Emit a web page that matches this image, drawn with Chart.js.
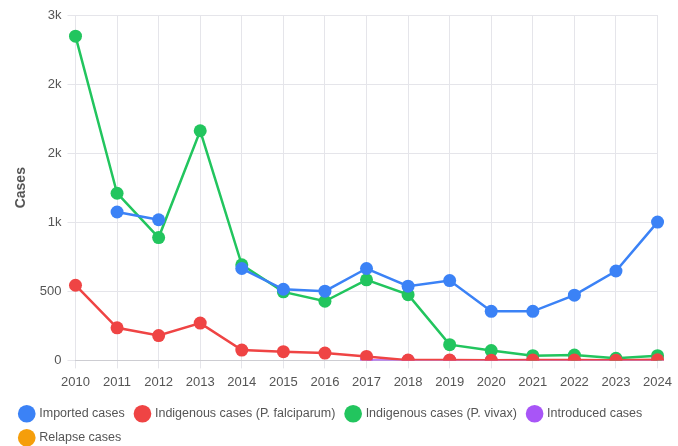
<!DOCTYPE html>
<html>
<head>
<meta charset="utf-8">
<script src="https://cdn.jsdelivr.net/npm/chart.js@4/dist/chart.umd.min.js"></script>
<style>
  html, body { margin: 0; padding: 0; background: #fff; overflow: hidden; }
  #wrap { width: 678px; height: 454px; }
</style>
</head>
<body>
<div id="wrap"><canvas id="cases"></canvas></div>
<script>
// years on the x axis
const years = ['2010', '2011', '2012', '2013', '2014', '2015', '2016', '2017', '2018', '2019', '2020', '2021', '2022', '2023', '2024'];

// series
const imported = [null, 1074, 1018, null, 665, 515, 501, 665, 537, 578, 355, 355, 472, 647, 1001];
const indigenousFalciparum = [544, 236, 180, 270, 75, 63, 53, 29, 2, 3, 1, 2, 2, 1, 4];
const indigenousVivax = [2347, 1210, 889, 1662, 692, 496, 428, 583, 476, 114, 71, 34, 39, 15, 34];
const introduced = [null, null, null, null, null, null, null, 0, 0, 0, 0, 0, 0, 0, 0];
const relapse = [null, null, null, null, null, null, null, null, null, null, null, null, null, null, null];

function series(label, values, colour) {
    return {
        label: label,
        data: values,
        borderColor: colour,
        backgroundColor: colour,
        borderWidth: 2.5,
        pointRadius: 6.5,
        pointHoverRadius: 7,
        pointBorderWidth: 0,
        tension: 0
    };
}

Chart.defaults.font.family = "'Liberation Sans', Arial, sans-serif";
Chart.defaults.color = '#666';

new Chart(document.getElementById('cases').getContext('2d'), {
    type: 'line',
    data: {
        labels: years,
        datasets: [
            series('Imported cases', imported, '#3b82f6'),
            series('Indigenous cases (P. falciparum)', indigenousFalciparum, '#ef4444'),
            series('Indigenous cases (P. vivax)', indigenousVivax, '#22c55e'),
            series('Introduced cases', introduced, '#a855f7'),
            series('Relapse cases', relapse, '#f59e0b')
        ]
    },
    options: {
        responsive: true,
        maintainAspectRatio: false,
        animation: false,
        layout: { padding: { left: 9, right: -3, top: 15, bottom: 0 } },
        plugins: {
            legend: {
                position: 'bottom',
                align: 'start',
                labels: {
                    usePointStyle: true,
                    pointStyle: 'circle',
                    boxWidth: 14,
                    boxHeight: 14,
                    padding: 11.5,
                    color: '#555',
                    font: { size: 12.5 }
                }
            },
            tooltip: { enabled: false }
        },
        scales: {
            x: {
                offset: false,
                grid: { color: '#e5e5ea' },
                ticks: { font: { size: 13 }, color: '#555', padding: 6 }
            },
            y: {
                min: 0,
                max: 2500,
                grid: { color: '#e5e5ea' },
                border: { display: false },
                title: {
                    display: true,
                    text: 'Cases',
                    font: { size: 14, weight: 'bold' },
                    color: '#555'
                },
                ticks: {
                    stepSize: 500,
                    font: { size: 13 },
                    color: '#555',
                    padding: 6,
                    callback: v => v >= 1000 ? Math.round(v / 1000) + 'k' : v
                }
            }
        }
    }
});
</script>
</body>
</html>
